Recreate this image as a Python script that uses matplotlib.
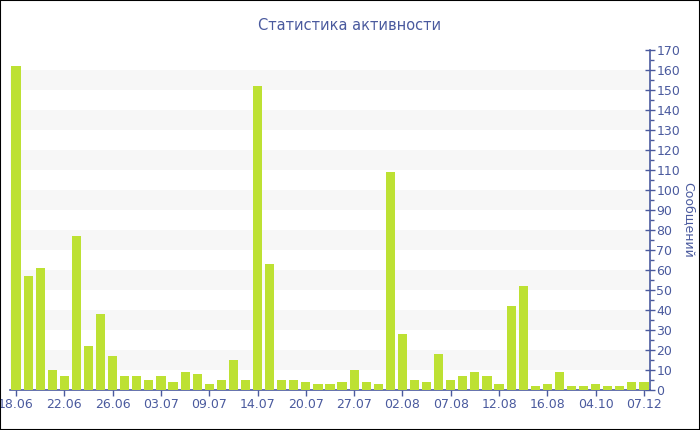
import numpy as np
import matplotlib.pyplot as plt
from matplotlib.patches import Rectangle
from matplotlib.ticker import MultipleLocator

# messages per active day
values = [162, 57, 61, 10, 7, 77, 22, 38, 17, 7, 7, 5, 7, 4, 9, 8, 3, 5, 15,
          5, 152, 63, 5, 5, 4, 3, 3, 4, 10, 4, 3, 109, 28, 5, 4, 18, 5, 7,
          9, 7, 3, 42, 52, 2, 3, 9, 2, 2, 3, 2, 2, 4, 4]
# labels shown on every 4th bar
tick_labels = ["18.06", "22.06", "26.06", "03.07", "09.07", "14.07", "20.07",
               "27.07", "02.08", "07.08", "12.08", "16.08", "04.10", "07.12"]

txt_col = "#4a5a9e"
bar_col = "#bde133"

fig = plt.figure(figsize=(7, 4.3), dpi=100)
ax = fig.add_axes([10/700, 40/430, 640/700, 340/430])

x = np.arange(len(values))
ax.bar(x, values, width=0.76, color=bar_col, zorder=3)

ax.set_xlim(-0.5, len(values) - 0.5)
ax.set_ylim(0, 170)

# alternating bands
for lo in range(10, 170, 20):
    ax.axhspan(lo, lo + 10, color="#f7f7f7", zorder=0, lw=0)

ax.yaxis.tick_right()
ax.yaxis.set_label_position("right")
ax.yaxis.set_major_locator(MultipleLocator(10))
ax.yaxis.set_minor_locator(MultipleLocator(5))
ax.set_xticks(x[::4])
ax.set_xticklabels(tick_labels)

for s in ["top", "left"]:
    ax.spines[s].set_visible(False)
for s in ["right", "bottom"]:
    ax.spines[s].set_color(txt_col)
    ax.spines[s].set_linewidth(1.2)

ax.tick_params(axis="y", which="major", direction="inout", length=7, width=1,
               color=txt_col, labelcolor=txt_col, labelsize=9, pad=1)
ax.tick_params(axis="y", which="minor", direction="out", length=3, width=1,
               color=txt_col)
ax.tick_params(axis="x", direction="out", length=4, width=1, color=txt_col,
               labelcolor=txt_col, labelsize=9, pad=2)

ax.set_ylabel("Сообщений", color=txt_col, fontsize=9, rotation=270,
              labelpad=11)
fig.text(0.5, 1 - 25/430, "Статистика активности", ha="center", va="center",
         color=txt_col, fontsize=10.5)

fig.patches.append(Rectangle((0, 0), 1, 1, transform=fig.transFigure,
                             fill=False, edgecolor="black", lw=1.5))

plt.savefig("out.png", dpi=100)
